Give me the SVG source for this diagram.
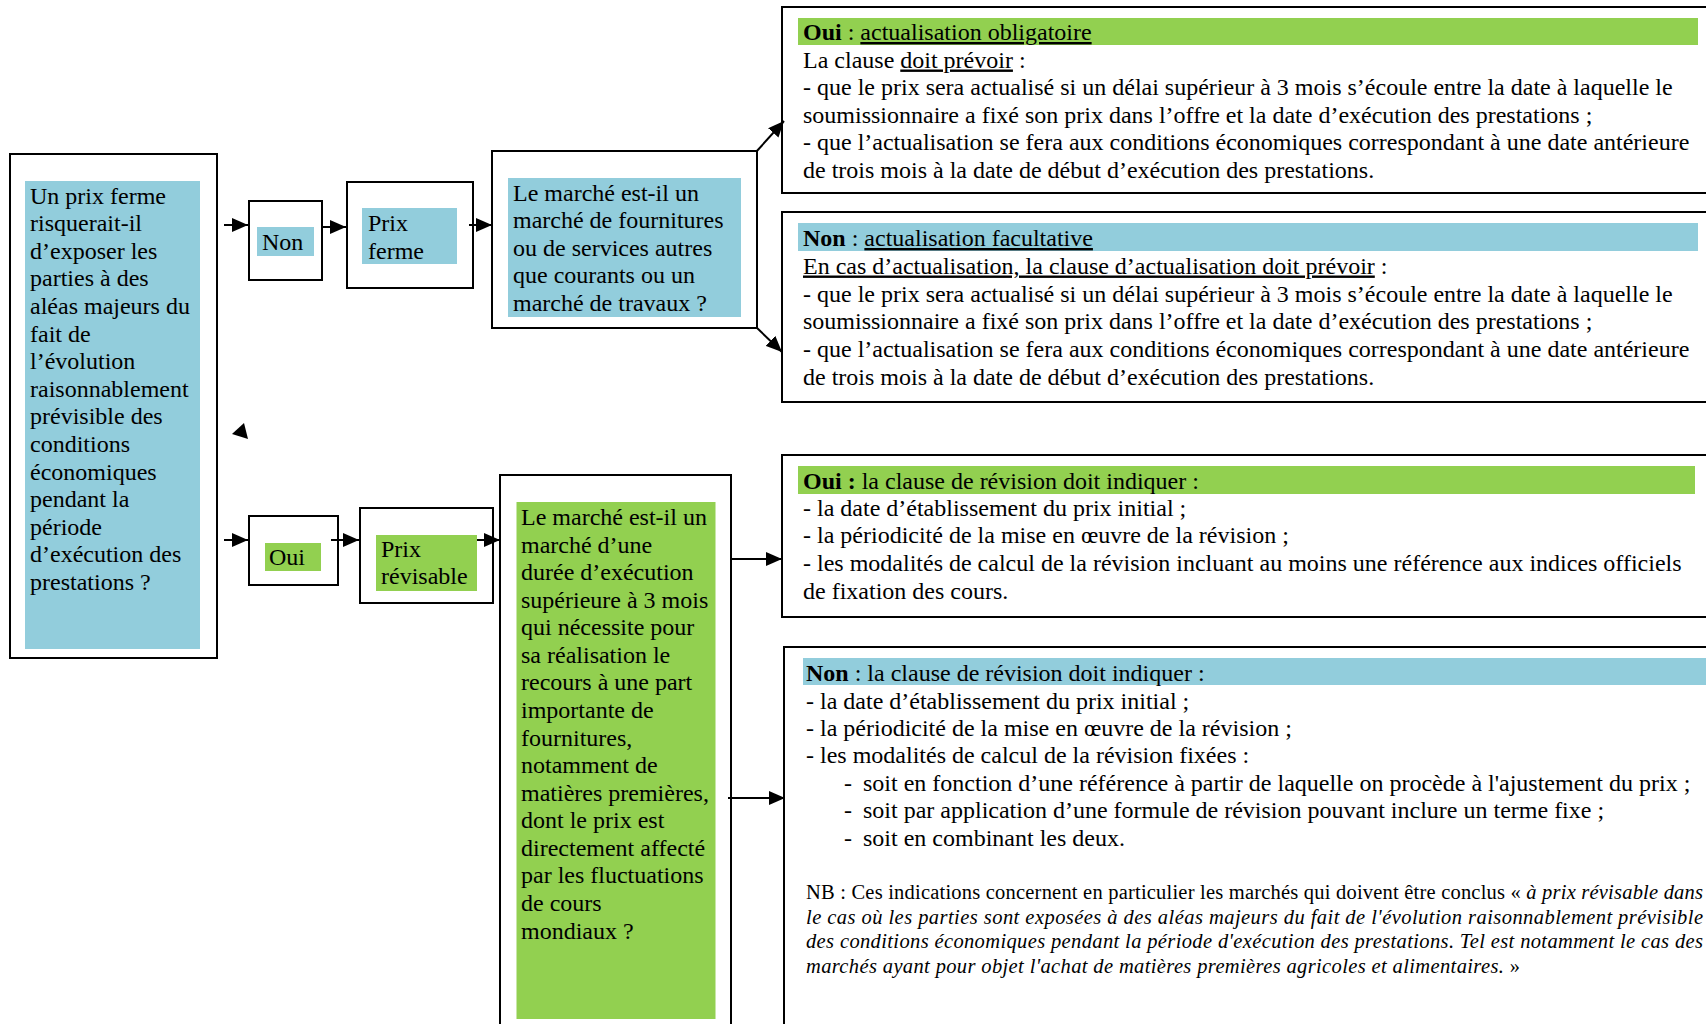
<svg xmlns="http://www.w3.org/2000/svg" width="1706" height="1024" viewBox="0 0 1706 1024">
<defs>
<style>
.box{fill:#fff;stroke:#000;stroke-width:2}
.blue{fill:#92CDDC}
.green{fill:#92D050}
.t{font-family:"Liberation Serif","Times New Roman",serif;font-size:24px;fill:#000}
.nb{font-size:20.5px}
.b{font-weight:bold}
.u{text-decoration:underline}
.i{font-style:italic}
.conn{stroke:#000;stroke-width:2;fill:none;marker-end:url(#ah)}
</style>
<marker id="ah" markerUnits="userSpaceOnUse" markerWidth="16" markerHeight="14" refX="16" refY="7" orient="auto">
<path d="M0,0 L16,7 L0,14 z" fill="#000"/>
</marker>
</defs>
<rect width="1706" height="1024" fill="#fff"/>

<g id="q-prix-ferme">
<rect class="box" x="10" y="154" width="207" height="504"/>
<rect class="blue" x="25" y="181" width="175" height="468"/>
<text class="t" x="30" y="203.5">
<tspan x="30" y="203.5">Un prix ferme</tspan>
<tspan x="30" y="231.1">risquerait-il</tspan>
<tspan x="30" y="258.7">d’exposer les</tspan>
<tspan x="30" y="286.3">parties à des</tspan>
<tspan x="30" y="313.9">aléas majeurs du</tspan>
<tspan x="30" y="341.5">fait de</tspan>
<tspan x="30" y="369.1">l’évolution</tspan>
<tspan x="30" y="396.7">raisonnablement</tspan>
<tspan x="30" y="424.3">prévisible des</tspan>
<tspan x="30" y="451.9">conditions</tspan>
<tspan x="30" y="479.5">économiques</tspan>
<tspan x="30" y="507.1">pendant la</tspan>
<tspan x="30" y="534.7">période</tspan>
<tspan x="30" y="562.3">d’exécution des</tspan>
<tspan x="30" y="590">prestations ?</tspan>
</text>
</g>

<g id="non">
<rect class="box" x="249" y="201" width="73" height="79"/>
<rect class="blue" x="257" y="227" width="57" height="29"/>
<text class="t" x="262" y="249.5">Non</text>
</g>

<g id="prix-ferme">
<rect class="box" x="347" y="182" width="126" height="106"/>
<rect class="blue" x="362" y="208" width="95" height="56"/>
<text class="t"><tspan x="368" y="231">Prix</tspan><tspan x="368" y="259">ferme</tspan></text>
</g>

<g id="q-fournitures">
<rect class="box" x="492" y="151" width="265" height="177"/>
<rect class="blue" x="508" y="178" width="233" height="139"/>
<text class="t">
<tspan x="513" y="200.5">Le marché est-il un</tspan>
<tspan x="513" y="228">marché de fournitures</tspan>
<tspan x="513" y="255.5">ou de services autres</tspan>
<tspan x="513" y="283">que courants ou un</tspan>
<tspan x="513" y="310.5">marché de travaux ?</tspan>
</text>
</g>

<g id="oui">
<rect class="box" x="249" y="516" width="89" height="69"/>
<rect class="green" x="265" y="543" width="56" height="28"/>
<text class="t" x="269" y="564.5">Oui</text>
</g>

<g id="prix-revisable">
<rect class="box" x="360" y="508" width="133" height="95"/>
<rect class="green" x="376" y="535" width="101" height="56"/>
<text class="t"><tspan x="381" y="557">Prix</tspan><tspan x="381" y="584">révisable</tspan></text>
</g>

<g id="q-duree">
<rect class="box" x="500" y="475" width="231" height="560"/>
<rect class="green" x="516.5" y="502" width="199" height="517"/>
<text class="t">
<tspan x="521" y="525">Le marché est-il un</tspan>
<tspan x="521" y="552.6">marché d’une</tspan>
<tspan x="521" y="580.1">durée d’exécution</tspan>
<tspan x="521" y="607.7">supérieure à 3 mois</tspan>
<tspan x="521" y="635.3">qui nécessite pour</tspan>
<tspan x="521" y="662.9">sa réalisation le</tspan>
<tspan x="521" y="690.4">recours à une part</tspan>
<tspan x="521" y="718">importante de</tspan>
<tspan x="521" y="745.6">fournitures,</tspan>
<tspan x="521" y="773.1">notamment de</tspan>
<tspan x="521" y="800.7">matières premières,</tspan>
<tspan x="521" y="828.3">dont le prix est</tspan>
<tspan x="521" y="855.9">directement affecté</tspan>
<tspan x="521" y="883.4">par les fluctuations</tspan>
<tspan x="521" y="911">de cours</tspan>
<tspan x="521" y="938.5">mondiaux ?</tspan>
</text>
</g>

<g id="actualisation-obligatoire">
<rect class="box" x="782" y="7" width="940" height="186"/>
<rect class="green" x="798" y="18" width="900" height="27"/>
<text class="t">
<tspan x="803" y="40"><tspan class="b">Oui</tspan> : <tspan class="u">actualisation obligatoire</tspan></tspan>
<tspan x="803" y="67.5">La clause <tspan class="u">doit prévoir</tspan> :</tspan>
<tspan x="803" y="95">- que le prix sera actualisé si un délai supérieur à 3 mois s’écoule entre la date à laquelle le</tspan>
<tspan x="803" y="122.5">soumissionnaire a fixé son prix dans l’offre et la date d’exécution des prestations ;</tspan>
<tspan x="803" y="150">- que l’actualisation se fera aux conditions économiques correspondant à une date antérieure</tspan>
<tspan x="803" y="177.5">de trois mois à la date de début d’exécution des prestations.</tspan>
</text>
</g>

<g id="actualisation-facultative">
<rect class="box" x="782" y="212" width="940" height="190"/>
<rect class="blue" x="798" y="223" width="900" height="28"/>
<text class="t">
<tspan x="803" y="246"><tspan class="b">Non</tspan> : <tspan class="u">actualisation facultative</tspan></tspan>
<tspan x="803" y="273.5"><tspan class="u">En cas d’actualisation, la clause d’actualisation doit prévoir</tspan> :</tspan>
<tspan x="803" y="301.5">- que le prix sera actualisé si un délai supérieur à 3 mois s’écoule entre la date à laquelle le</tspan>
<tspan x="803" y="329">soumissionnaire a fixé son prix dans l’offre et la date d’exécution des prestations ;</tspan>
<tspan x="803" y="357">- que l’actualisation se fera aux conditions économiques correspondant à une date antérieure</tspan>
<tspan x="803" y="385">de trois mois à la date de début d’exécution des prestations.</tspan>
</text>
</g>

<g id="revision-oui">
<rect class="box" x="782" y="455" width="940" height="162"/>
<rect class="green" x="798" y="466" width="897" height="28"/>
<text class="t">
<tspan x="803" y="489"><tspan class="b">Oui :</tspan> la clause de révision doit indiquer :</tspan>
<tspan x="803" y="516">- la date d’établissement du prix initial ;</tspan>
<tspan x="803" y="543">- la périodicité de la mise en œuvre de la révision ;</tspan>
<tspan x="803" y="570.5">- les modalités de calcul de la révision incluant au moins une référence aux indices officiels</tspan>
<tspan x="803" y="598.5">de fixation des cours.</tspan>
</text>
</g>

<g id="revision-non">
<rect class="box" x="784" y="647" width="940" height="400"/>
<rect class="blue" x="803" y="658" width="910" height="27"/>
<text class="t">
<tspan x="806" y="681"><tspan class="b">Non</tspan> : la clause de révision doit indiquer :</tspan>
<tspan x="806" y="708.5">- la date d’établissement du prix initial ;</tspan>
<tspan x="806" y="735.5">- la périodicité de la mise en œuvre de la révision ;</tspan>
<tspan x="806" y="763">- les modalités de calcul de la révision fixées :</tspan>
<tspan x="844" y="790.5">-</tspan><tspan x="863" y="790.5">soit en fonction d’une référence à partir de laquelle on procède à l'ajustement du prix ;</tspan>
<tspan x="844" y="818">-</tspan><tspan x="863" y="818">soit par application d’une formule de révision pouvant inclure un terme fixe ;</tspan>
<tspan x="844" y="845.5">-</tspan><tspan x="863" y="845.5">soit en combinant les deux.</tspan>
</text>
<text class="t nb" x="806" y="899" textLength="897" lengthAdjust="spacing">NB : Ces indications concernent en particulier les marchés qui doivent être conclus « <tspan class="i">à prix révisable dans</tspan></text>
<text class="t nb i" x="806" y="923.5" textLength="897" lengthAdjust="spacing">le cas où les parties sont exposées à des aléas majeurs du fait de l'évolution raisonnablement prévisible</text>
<text class="t nb i" x="806" y="948" textLength="897" lengthAdjust="spacing">des conditions économiques pendant la période d'exécution des prestations. Tel est notamment le cas des</text>
<text class="t nb" x="806" y="972.5" textLength="714" lengthAdjust="spacing"><tspan class="i">marchés ayant pour objet l'achat de matières premières agricoles et alimentaires.</tspan> »</text>
</g>

<g id="connectors">
<path class="conn" d="M224,225 H248"/>
<path class="conn" d="M224,540 H248"/>
<path class="conn" d="M322,227 H346"/>
<path class="conn" d="M469,225 H492"/>
<path class="conn" d="M331,540 H359"/>
<path class="conn" d="M477,540 H500"/>
<path class="conn" d="M756,152 L784,121"/>
<path class="conn" d="M756,327 L782,352"/>
<path class="conn" d="M731,559 H782"/>
<path class="conn" d="M728,798 H785"/>
<polygon points="244,423 232,434 248,439" fill="#000"/>
</g>
</svg>
